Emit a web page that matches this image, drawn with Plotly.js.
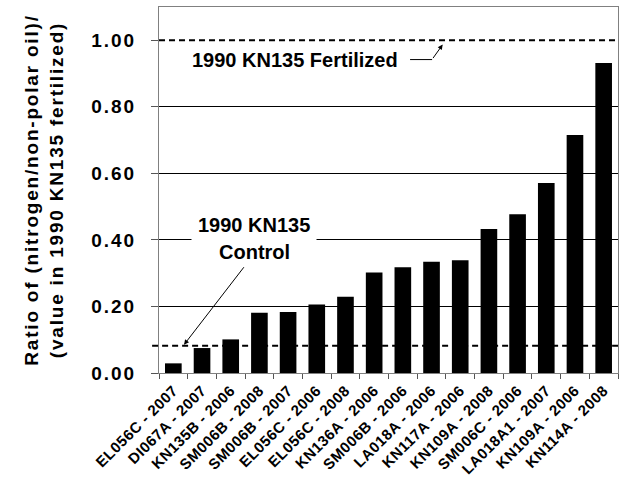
<!DOCTYPE html>
<html>
<head>
<meta charset="utf-8">
<script src="https://cdn.plot.ly/plotly-3.0.1.min.js"></script>
<style>
html,body{margin:0;padding:0;background:#fff;}
#chart{width:619px;height:481px;}
#chart .ytick text{letter-spacing:2px;}
#chart .xtick text{letter-spacing:0.5px;}
#chart .g-ytitle text{letter-spacing:1.8px;}
</style>
</head>
<body>
<div id="chart"></div>
<script>
// Data
const categories = [
  "EL056C - 2007", "DI067A - 2007", "KN135B - 2006", "SM006B - 2008",
  "SM006B - 2007", "EL056C - 2006", "EL056C - 2008", "KN136A - 2006",
  "SM006B - 2006", "LA018A - 2006", "KN117A - 2006", "KN109A - 2008",
  "SM006C - 2006", "LA018A1 - 2007", "KN109A - 2006", "KN114A - 2008"
];
const ratios = [0.029, 0.075, 0.101, 0.181, 0.183, 0.206, 0.229, 0.302,
                0.318, 0.334, 0.339, 0.433, 0.477, 0.571, 0.715, 0.932];
const fertilizedRef = 1.00;
const controlRef = 0.082;
const yTickVals = [0, 0.2, 0.4, 0.6, 0.8, 1.0];

const FONT = "Liberation Sans, Arial, sans-serif";

const trace = {
  type: "bar",
  x: categories,
  y: ratios,
  marker: {color: "#000000", line: {width: 0}},
  hoverinfo: "x+y"
};

const layout = {
  width: 619,
  height: 481,
  margin: {l: 159, r: 1, t: 7, b: 108, pad: 0},
  paper_bgcolor: "#ffffff",
  plot_bgcolor: "#ffffff",
  showlegend: false,
  bargap: 0.42,
  font: {family: FONT, color: "#000000"},
  xaxis: {
    type: "category",
    tickangle: -45,
    tickfont: {family: FONT, size: 15, weight: "bold", color: "#000"},
    ticks: "outside",
    tickson: "boundaries",
    ticklen: 5,
    tickcolor: "#555",
    ticklabelstandoff: 2,
    showline: true,
    linecolor: "#808080",
    linewidth: 1,
    mirror: true,
    showgrid: false,
    automargin: false
  },
  yaxis: {
    range: [0, 1.1],
    tickvals: yTickVals,
    tickformat: ".2f",
    tickfont: {family: FONT, size: 19, weight: "bold", color: "#000"},
    ticks: "outside",
    ticklen: 7,
    tickcolor: "#555",
    ticklabelstandoff: 11,
    showline: true,
    linecolor: "#808080",
    linewidth: 1,
    mirror: true,
    showgrid: true,
    gridcolor: "#000000",
    gridwidth: 1,
    zeroline: true,
    zerolinecolor: "#000000",
    zerolinewidth: 1,
    automargin: false,
    title: {
      text: "Ratio of (nitrogen/non-polar oil)/<br>(value in 1990 KN135 fertilized)",
      font: {family: FONT, size: 19, weight: "bold", color: "#000"},
      standoff: 30
    }
  },
  shapes: [
    // hide the solid gridline beneath the fertilized reference line
    {type: "line", xref: "paper", yref: "y", x0: 0, x1: 1, y0: fertilizedRef, y1: fertilizedRef,
     line: {color: "#ffffff", width: 3}},
    {type: "line", xref: "paper", yref: "y", x0: 0, x1: 1, y0: fertilizedRef, y1: fertilizedRef,
     line: {color: "#000000", width: 2, dash: "6px,4px"}},
    {type: "line", xref: "paper", yref: "y", x0: -0.015, x1: 1, y0: controlRef, y1: controlRef,
     line: {color: "#000000", width: 2, dash: "6px,4px"}},
    // horizontal lead-in of the fertilized label arrow
    {type: "line", xref: "paper", yref: "y", x0: 0.547, x1: 0.595, y0: 0.942, y1: 0.942,
     line: {color: "#000000", width: 1}}
  ],
  annotations: [
    {xref: "paper", yref: "y", x: 0.296, y: 0.942, xanchor: "center", yanchor: "middle",
     text: "1990 KN135 Fertilized", showarrow: false,
     font: {family: FONT, size: 20, weight: "bold", color: "#000"}},
    {xref: "paper", yref: "y", x: 0.618, y: 0.987, text: "",
     showarrow: true, ax: -10.7, ay: 15, arrowhead: 2, arrowsize: 1, arrowwidth: 1, arrowcolor: "#000"},
    {xref: "paper", yref: "y", x: 0.207, y: 0.444, xanchor: "center", yanchor: "middle",
     text: "1990 KN135", showarrow: false, bgcolor: "#ffffff", borderpad: 6,
     font: {family: FONT, size: 20, weight: "bold", color: "#000"}},
    {xref: "paper", yref: "y", x: 0.208, y: 0.363, xanchor: "center", yanchor: "middle",
     text: "Control", showarrow: false,
     font: {family: FONT, size: 20, weight: "bold", color: "#000"}},
    {xref: "paper", yref: "y", x: 0.0545, y: controlRef + 0.003, text: "",
     showarrow: true, ax: 61, ay: -79, arrowhead: 2, arrowsize: 1, arrowwidth: 1, arrowcolor: "#000"}
  ]
};

Plotly.newPlot("chart", [trace], layout, {displayModeBar: false, staticPlot: true});
</script>
</body>
</html>
